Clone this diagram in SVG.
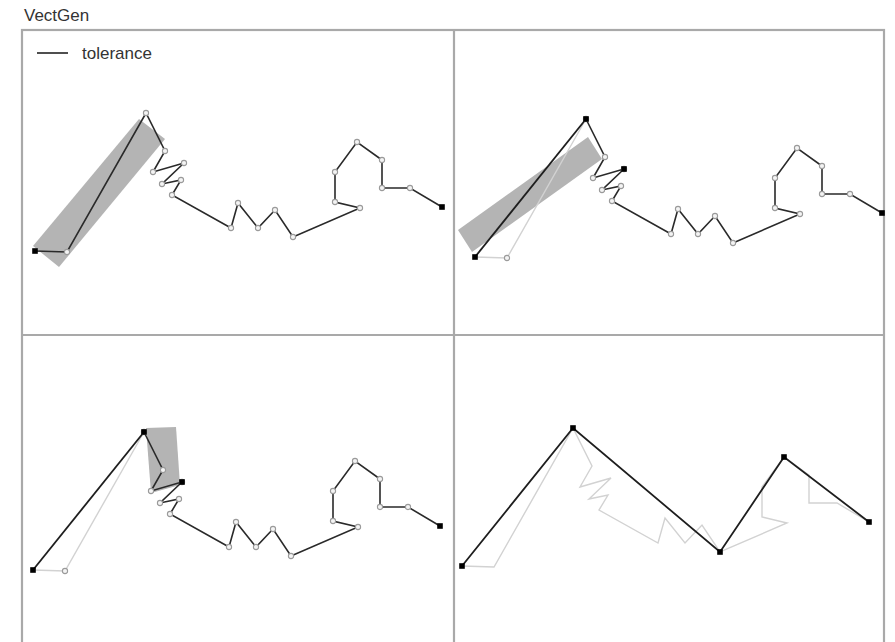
<svg xmlns="http://www.w3.org/2000/svg" xmlns:xlink="http://www.w3.org/1999/xlink" width="895" height="642" viewBox="0 0 895 642">
<style>
.frame{fill:none;stroke:#a9a9a9;stroke-width:2.2}
.band{fill:#b4b4b4}
.orig{fill:none;stroke:#2a2a2a;stroke-width:1.6;stroke-linejoin:miter}
.faint{fill:none;stroke:#d2d2d2;stroke-width:1.4}
.simp{fill:none;stroke:#1e1e1e;stroke-width:1.8}
.v{fill:#f4f4f4;stroke:#9a9a9a;stroke-width:1.1}
.k{fill:#000}
.t{font-family:"Liberation Sans",Arial,sans-serif;fill:#333}
</style>
<defs>
<polyline id="line" points="35,251 67,252 146,113 165,151 153,172 184,163 162,184 181,180 172,195 231,228 238,203 258,228 275,210 293,237 360,208 335,202 335,172 357,142 382,160 382,188 410,188 442,207"/>
<polyline id="rest" points="146,113 165,151 153,172 184,163 162,184 181,180 172,195 231,228 238,203 258,228 275,210 293,237 360,208 335,202 335,172 357,142 382,160 382,188 410,188 442,207"/>
<circle id="vc" r="2.6"/>
<rect id="kq" x="-2.8" y="-2.8" width="5.6" height="5.6"/>
<g id="verts">
<use xlink:href="#vc" class="v" x="67" y="252"/>
<use xlink:href="#vc" class="v" x="146" y="113"/>
<use xlink:href="#vc" class="v" x="165" y="151"/>
<use xlink:href="#vc" class="v" x="153" y="172"/>
<use xlink:href="#vc" class="v" x="184" y="163"/>
<use xlink:href="#vc" class="v" x="162" y="184"/>
<use xlink:href="#vc" class="v" x="181" y="180"/>
<use xlink:href="#vc" class="v" x="172" y="195"/>
<use xlink:href="#vc" class="v" x="231" y="228"/>
<use xlink:href="#vc" class="v" x="238" y="203"/>
<use xlink:href="#vc" class="v" x="258" y="228"/>
<use xlink:href="#vc" class="v" x="275" y="210"/>
<use xlink:href="#vc" class="v" x="293" y="237"/>
<use xlink:href="#vc" class="v" x="360" y="208"/>
<use xlink:href="#vc" class="v" x="335" y="202"/>
<use xlink:href="#vc" class="v" x="335" y="172"/>
<use xlink:href="#vc" class="v" x="357" y="142"/>
<use xlink:href="#vc" class="v" x="382" y="160"/>
<use xlink:href="#vc" class="v" x="382" y="188"/>
<use xlink:href="#vc" class="v" x="410" y="188"/>
</g>
</defs>

<text class="t" x="24" y="21" font-size="17">VectGen</text>

<g id="frame">
<rect class="frame" x="22" y="30" width="862" height="630"/>
<line class="frame" x1="454" y1="30" x2="454" y2="642"/>
<line class="frame" x1="22" y1="335" x2="884" y2="335"/>
</g>

<g id="legend">
<line x1="37" y1="53" x2="68" y2="53" stroke="#222" stroke-width="1.6"/>
<text class="t" x="82" y="59" font-size="17" fill="#555">tolerance</text>
</g>

<g id="panel1">
<polygon class="band" points="33,246 139,119 165,139 59,267"/>
<g id="connectors1"><use xlink:href="#line" class="orig"/></g>
<use xlink:href="#verts"/>
<use xlink:href="#kq" class="k" x="35" y="251"/>
<use xlink:href="#kq" class="k" x="442" y="207"/>
</g>

<g id="panel2" transform="translate(440,6)">
<polygon class="band" points="18,224 148,131 162,153 32,246"/>
<g id="connectors2">
<polyline class="faint" points="35,251 67,252 146,113"/>
<line class="simp" x1="35" y1="251" x2="146" y2="113"/>
<use xlink:href="#rest" class="orig"/>
</g>
<use xlink:href="#verts"/>
<use xlink:href="#kq" class="k" x="35" y="251"/>
<use xlink:href="#kq" class="k" x="146" y="113"/>
<use xlink:href="#kq" class="k" x="184" y="163"/>
<use xlink:href="#kq" class="k" x="442" y="207"/>
</g>

<g id="panel3" transform="translate(-2,319)">
<polygon class="band" points="148,109 178,108 182,166 153,174"/>
<g id="connectors3">
<polyline class="faint" points="35,251 67,252 146,113"/>
<line class="simp" x1="35" y1="251" x2="146" y2="113"/>
<use xlink:href="#rest" class="orig"/>
</g>
<use xlink:href="#verts"/>
<use xlink:href="#kq" class="k" x="35" y="251"/>
<use xlink:href="#kq" class="k" x="146" y="113"/>
<use xlink:href="#kq" class="k" x="184" y="163"/>
<use xlink:href="#kq" class="k" x="442" y="207"/>
</g>

<g id="panel4" transform="translate(427,315)">
<g id="connectors4">
<use xlink:href="#line" class="faint"/>
<polyline class="simp" points="35,251 146,113 293,237 357,142 442,207"/>
</g>
<use xlink:href="#kq" class="k" x="35" y="251"/>
<use xlink:href="#kq" class="k" x="146" y="113"/>
<use xlink:href="#kq" class="k" x="293" y="237"/>
<use xlink:href="#kq" class="k" x="357" y="142"/>
<use xlink:href="#kq" class="k" x="442" y="207"/>
</g>
</svg>
